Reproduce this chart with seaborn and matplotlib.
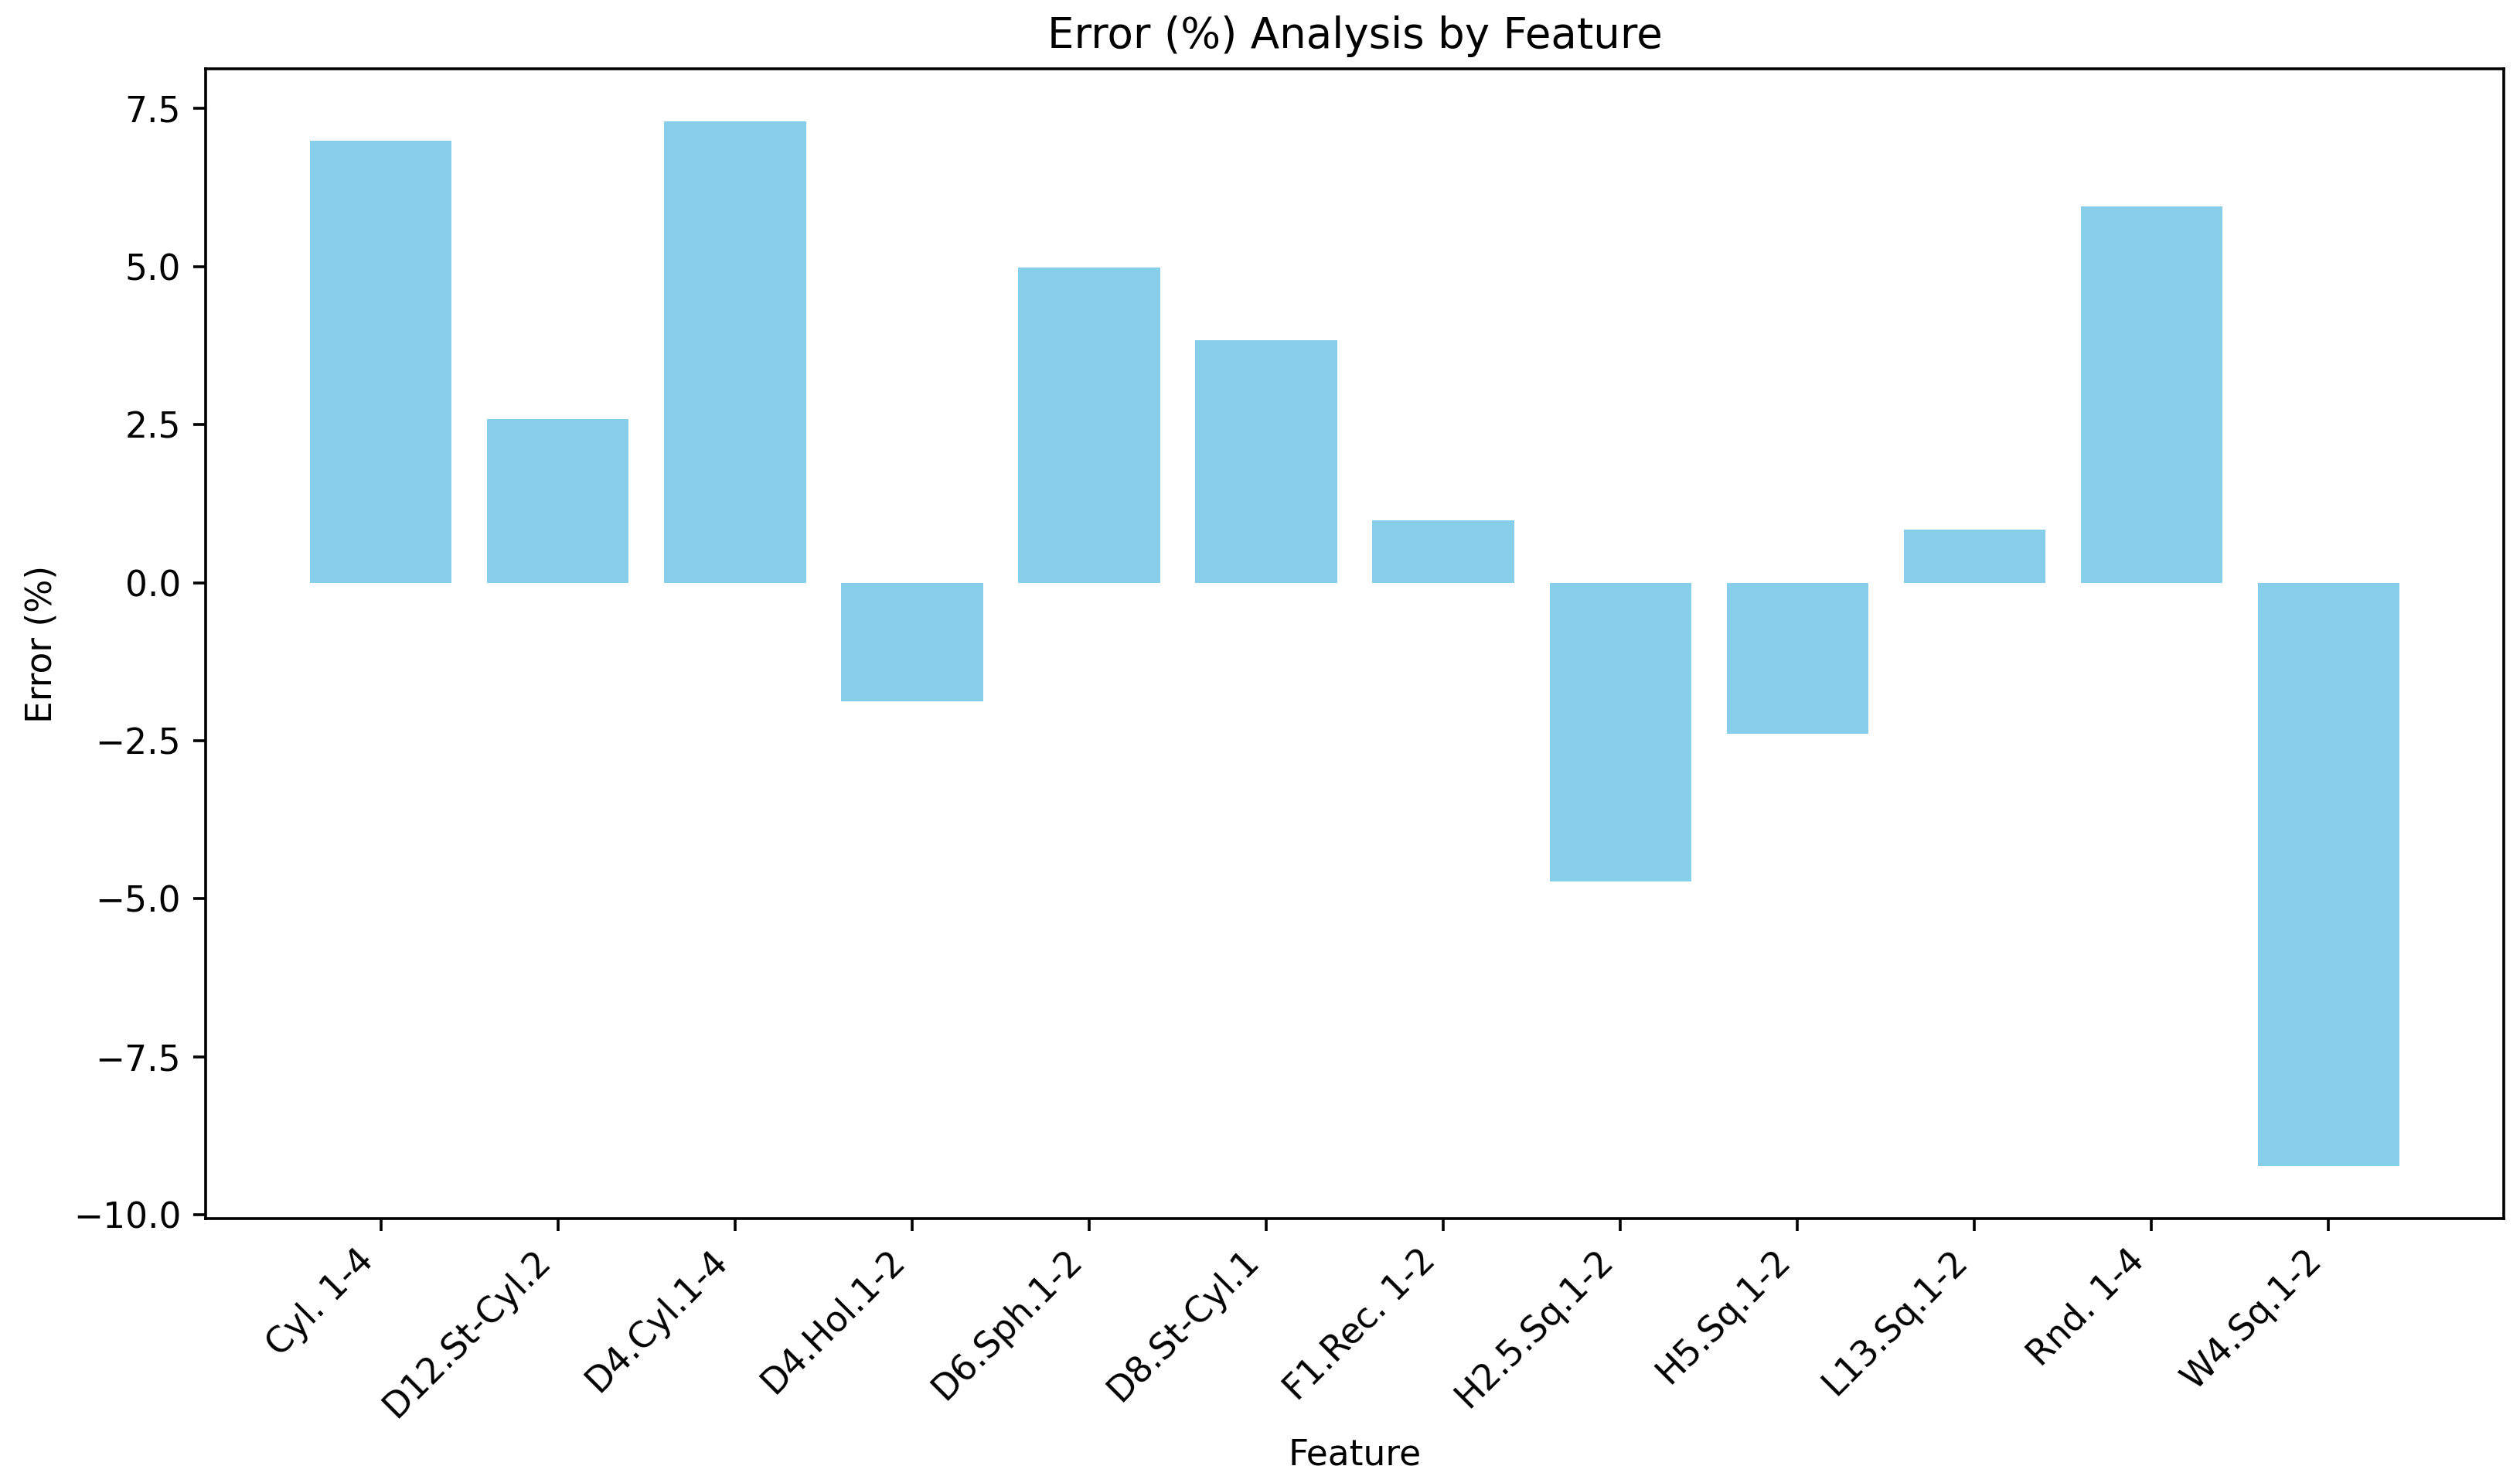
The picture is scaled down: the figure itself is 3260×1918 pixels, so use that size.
import pandas as pd
import matplotlib
matplotlib.use("Agg")
import matplotlib.pyplot as plt
import seaborn as sns

# Error per feature
features = ["Cyl. 1-4", "D12.St-Cyl.2", "D4.Cyl.1-4", "D4.Hol.1-2", "D6.Sph.1-2",
            "D8.St-Cyl.1", "F1.Rec. 1-2", "H2.5.Sq.1-2", "H5.Sq.1-2", "L13.Sq.1-2",
            "Rnd. 1-4", "W4.Sq.1-2"]
errors = [6.99, 2.59, 7.30, -1.87, 4.98, 3.84, 0.98, -4.73, -2.39, 0.84, 5.95, -9.23]

df = pd.DataFrame({"Feature": features, "Error (%)": errors})

plt.rcParams["font.family"] = ["DejaVu Sans"]

DPI = 328
fig, ax = plt.subplots(figsize=(3260 / DPI, 1918 / DPI), dpi=DPI)
sns.barplot(data=df, x="Feature", y="Error (%)", color="skyblue", saturation=1,
            width=0.8, ax=ax)

# matplotlib-style x margins instead of seaborn's tight categorical limits
ax.autoscale(axis="x")
ax.margins(x=0.05)

ax.set_title("Error (%) Analysis by Feature", fontsize=12)
ax.set_xlabel("Feature")
ax.set_ylabel("Error (%)")
plt.setp(ax.get_xticklabels(), rotation=45, ha="right")

fig.subplots_adjust(left=0.0816, right=0.9936, top=0.9536, bottom=0.1783)
fig.savefig("out.png", dpi=DPI)
